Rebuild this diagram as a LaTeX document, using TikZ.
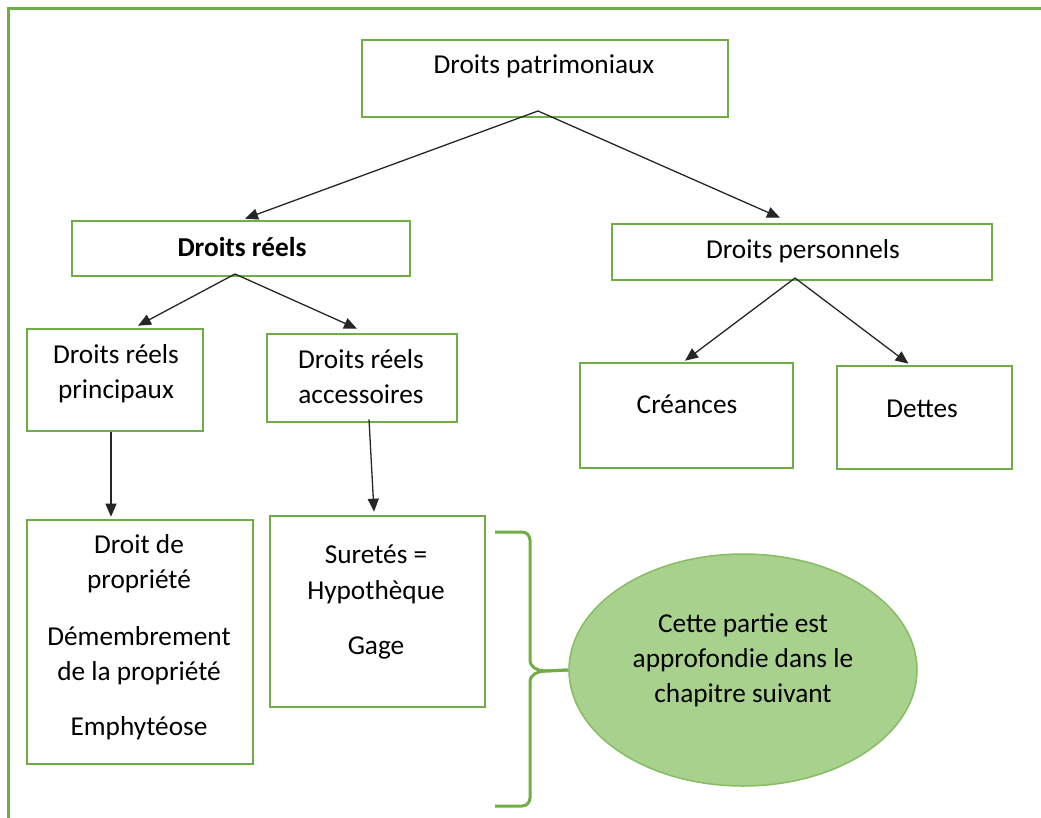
\documentclass[tikz,border=0pt]{standalone}
\usepackage{fontspec}
\setmainfont{Carlito}
\usetikzlibrary{arrows.meta,shapes.geometric,calc}
\definecolor{gborder}{HTML}{70AD47}
\definecolor{gdark}{HTML}{86BD62}
\definecolor{gfill}{HTML}{A9D18E}
\begin{document}
\begin{tikzpicture}[x=1pt,y=-1pt,
  box/.style={draw=gborder, line width=2.6pt, rectangle, inner sep=0pt},
  txt/.style={anchor=base, inner sep=0pt, text=black, font=\fontsize{27.3}{33}\selectfont},
  arr/.style={-{Triangle[length=13pt,width=11pt]}, line width=1.3pt, black!85},
  frame/.style={draw=gborder, line width=3pt},
  brace/.style={draw=gborder, line width=3pt, line join=round}]
\useasboundingbox (0,0) rectangle (1041,817);
\draw[frame] (8,830) -- (8,8) -- (1050,8);
% boxes
\node[box, minimum width=366pt, minimum height=77pt] (pat) at (545,78.5) {};
\node[box, minimum width=338pt, minimum height=55pt] (reels) at (241,248.5) {};
\node[box, minimum width=380pt, minimum height=56pt] (pers) at (802,252) {};
\node[box, minimum width=176pt, minimum height=102pt] (princ) at (115,380) {};
\node[box, minimum width=190pt, minimum height=88pt] (acc) at (362,378) {};
\node[box, minimum width=213pt, minimum height=105pt] (cre) at (686.5,415.5) {};
\node[box, minimum width=175pt, minimum height=103pt] (det) at (924.5,417.5) {};
\node[box, minimum width=226pt, minimum height=244pt] (prop) at (140,642) {};
\node[box, minimum width=215pt, minimum height=191pt] (sur) at (377.5,611.5) {};
\node[ellipse, draw=gdark, fill=gfill, line width=1.5pt, minimum width=348pt, minimum height=232pt, inner sep=0pt] (ell) at (743,670) {};
% texts
\node[txt] (tpat) at (544,73) {Droits patrimoniaux};
\node[txt] (treels) at (242,256) {\bfseries Droits réels};
\node[txt] (tpers) at (803,258) {Droits personnels};
\node[txt] (tprinc1) at (116,363) {Droits réels};
\node[txt] (tprinc2) at (116,398) {principaux};
\node[txt] (tacc1) at (361,368) {Droits réels};
\node[txt] (tacc2) at (361,403) {accessoires};
\node[txt] (tcre) at (687,413) {Créances};
\node[txt] (tdet) at (922,417) {Dettes};
\node[txt] (tprop1) at (139,553) {Droit de};
\node[txt] (tprop2) at (139,588) {propriété};
\node[txt] (tprop3) at (139,645) {Démembrement};
\node[txt] (tprop4) at (139,680) {de la propriété};
\node[txt] (tprop5) at (139,735) {Emphytéose};
\node[txt] (tsur1) at (376,563) {Suretés =};
\node[txt] (tsur2) at (376,599) {Hypothèque};
\node[txt] (tsur3) at (376,654) {Gage};
\node[txt] (tell1) at (743,632) {Cette partie est};
\node[txt] (tell2) at (743,667) {approfondie dans le};
\node[txt] (tell3) at (743,702) {chapitre suivant};
% connectors
\coordinate (patO) at (538,111);
\draw[arr] (patO) -- ([xshift=4pt,yshift=1pt]reels.north);
\draw[arr] (patO) -- ([xshift=-22pt,yshift=5pt]pers.north);
\coordinate (reelsO) at (235,274);
\draw[arr] (reelsO) -- ([xshift=23pt,yshift=2pt]princ.north);
\draw[arr] (reelsO) -- ([xshift=-5pt,yshift=4pt]acc.north);
\coordinate (persO) at (795,278);
\draw[arr] (persO) -- ([xshift=-1.5pt,yshift=1pt]cre.north);
\draw[arr] (persO) -- ([xshift=-16pt,yshift=1pt]det.north);
\draw[arr] ([xshift=-4pt]princ.south) -- ([xshift=-29pt,yshift=2pt]prop.north);
\draw[arr] ([xshift=7pt,yshift=4pt]acc.south) -- ([xshift=-3.5pt,yshift=3pt]sur.north);
% brace
\coordinate (bt) at (495,532);
\coordinate (bb) at (495,806);
\draw[brace] (bt) -- (522,532) to[out=0,in=90] (530,540) -- (530,660) to[out=-90,in=180] (545,671) -- (ell.west);
\draw[brace] (ell.west) -- (545,671) to[out=180,in=90] (530,682) -- (530,798) to[out=-90,in=0] (522,806) -- (bb);
\end{tikzpicture}
\end{document}
